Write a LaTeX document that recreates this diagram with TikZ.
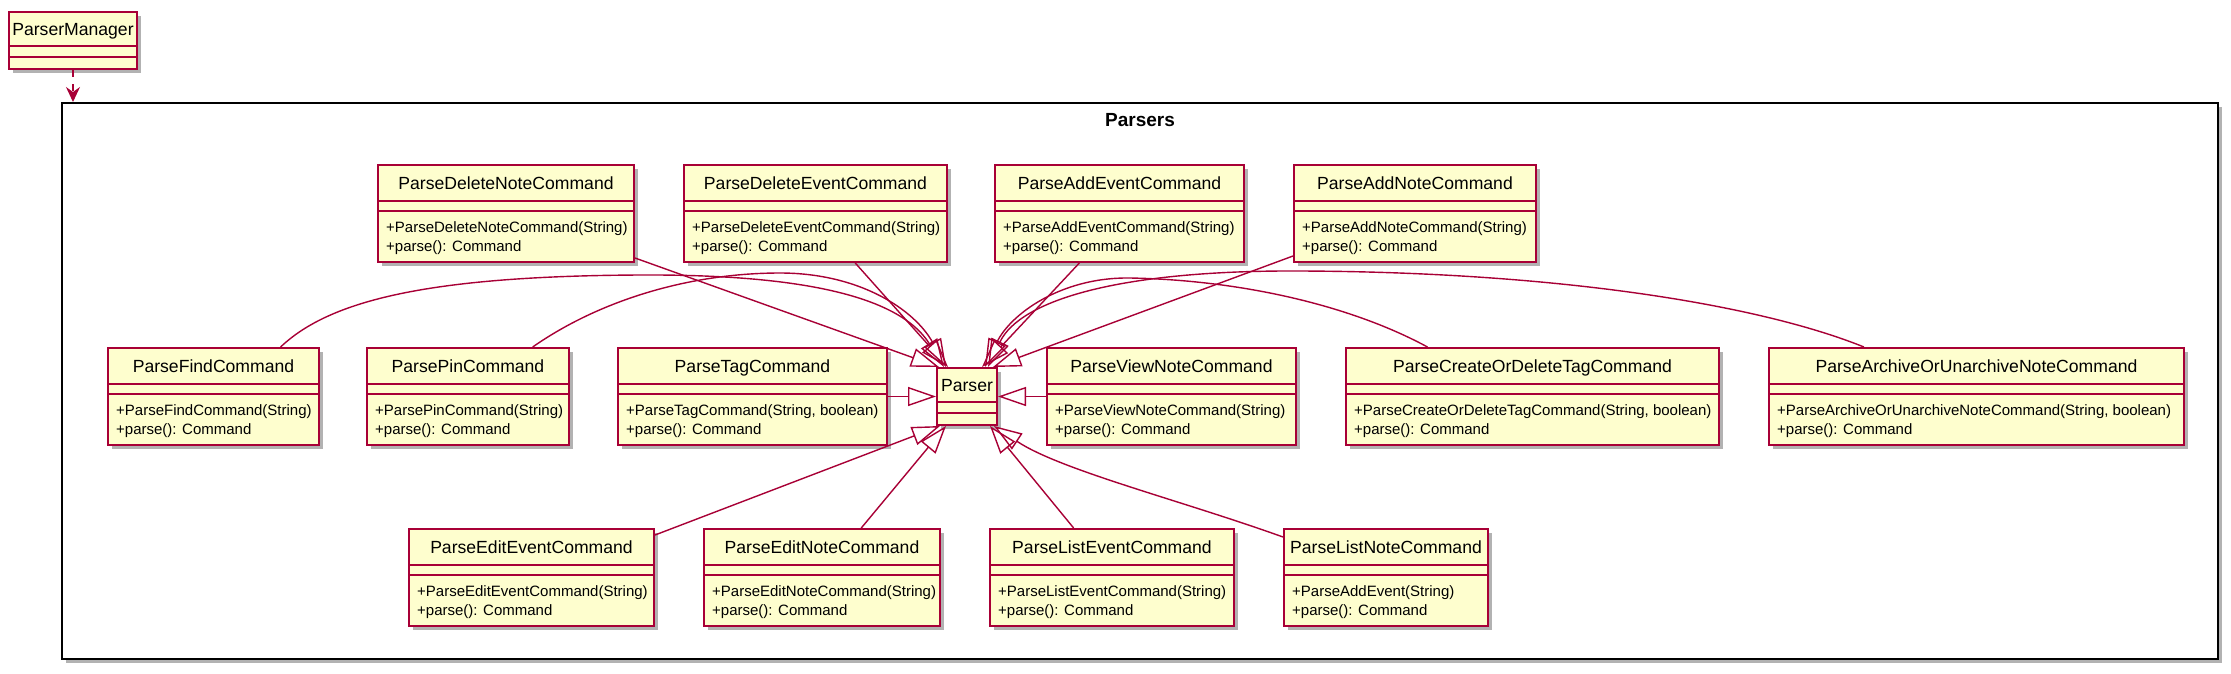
\documentclass[tikz,border=0pt]{standalone}
\usepackage{fontspec}
\setmainfont{Liberation Sans}
\usepackage{tikz}
\usetikzlibrary{positioning}
\usetikzlibrary{calc,shadows}
\usetikzlibrary{arrows.meta}
\definecolor{umlred}{HTML}{A80036}
\definecolor{umlfill}{HTML}{FEFECE}
\newcommand{\classfont}{\fontsize{17.6}{21}\selectfont}
\newcommand{\memberfont}{\fontsize{15}{19}\selectfont}
\tikzstyle{umlbox}=[draw=umlred, fill=umlfill, line width=2pt, inner sep=0pt, anchor=north west,
  drop shadow={shadow xshift=4pt, shadow yshift=-4pt, opacity=0.3, fill=black}]
\tikzstyle{umlline}=[umlred, line width=2pt]
\tikzstyle{member}=[anchor=base west, font=\memberfont, inner sep=0pt]
\tikzstyle{extends}=[umlred, line width=1.4pt, -{Triangle[open, length=28pt, width=19pt]}]
\tikzstyle{depends}=[umlred, line width=1.4pt, dash pattern=on 7pt off 7pt, -{Stealth[length=15pt, width=14pt, inset=5pt]}]

% class box: name, left, top, width, title, constructor
\newcommand{\umlclass}[6]{%
  \node[umlbox, minimum width=#4pt, minimum height=97pt] (#1) at (#2,#3) {};
  \draw[umlline] ($(#1.north west)+(0,37)$) -- ($(#1.north east)+(0,37)$);
  \draw[umlline] ($(#1.north west)+(0,47)$) -- ($(#1.north east)+(0,47)$);
  \node[anchor=base, font=\classfont] (#1-name) at ($(#1.north)+(0,25.5)$) {#5};
  \node[member] (#1-new) at ($(#1.north west)+(9,68)$) {#6};
  \node[member] (#1-parse) at ($(#1.north west)+(9,87.5)$) {+parse(): Command};
}
% class box without members: name, left, top, width, title
\newcommand{\emptyclass}[5]{%
  \node[umlbox, minimum width=#4pt, minimum height=57pt] (#1) at (#2,#3) {};
  \draw[umlline] ($(#1.north west)+(0,35)$) -- ($(#1.north east)+(0,35)$);
  \draw[umlline] ($(#1.north west)+(0,46)$) -- ($(#1.north east)+(0,46)$);
  \node[anchor=base, font=\classfont] (#1-name) at ($(#1.north)+(0,24.5)$) {#5};
}

\begin{document}
\begin{tikzpicture}[x=1pt, y=-1pt]
    \useasboundingbox (0,0) rectangle (2231,673);

    % the package frame
    \node[draw=black, fill=white, line width=2pt, inner sep=0pt, anchor=north west,
      minimum width=2156pt, minimum height=556pt,
      drop shadow={shadow xshift=4pt, shadow yshift=-4pt, opacity=0.3, fill=black}] (parsers) at (61,102) {};
    \node[anchor=base, font=\bfseries\fontsize{19}{22}\selectfont] (parsers-name) at ($(parsers.north)+(0,24.5)$) {Parsers};

    % manager outside the package
    \emptyclass{manager}{8}{11}{128}{ParserManager}
    \draw[depends] (manager.south) -- (manager.south |- parsers.north);

    % top row
    \umlclass{deletenote}{377}{164}{256}{ParseDeleteNoteCommand}{+ParseDeleteNoteCommand(String)}
    \umlclass{deleteevent}{683}{164}{263}{ParseDeleteEventCommand}{+ParseDeleteEventCommand(String)}
    \umlclass{addevent}{994}{164}{249}{ParseAddEventCommand}{+ParseAddEventCommand(String)}
    \umlclass{addnote}{1293}{164}{242}{ParseAddNoteCommand}{+ParseAddNoteCommand(String)}

    % middle row
    \umlclass{find}{107}{347}{211}{ParseFindCommand}{+ParseFindCommand(String)}
    \umlclass{pin}{366}{347}{202}{ParsePinCommand}{+ParsePinCommand(String)}
    \umlclass{tag}{617}{347}{269}{ParseTagCommand}{+ParseTagCommand(String, boolean)}
    \emptyclass{parser}{936}{367}{60}{Parser}
    \umlclass{viewnote}{1046}{347}{249}{ParseViewNoteCommand}{+ParseViewNoteCommand(String)}
    \umlclass{createtag}{1345}{347}{373}{ParseCreateOrDeleteTagCommand}{+ParseCreateOrDeleteTagCommand(String, boolean)}
    \umlclass{archive}{1768}{347}{415}{ParseArchiveOrUnarchiveNoteCommand}{+ParseArchiveOrUnarchiveNoteCommand(String, boolean)}

    % bottom row
    \umlclass{editevent}{408}{528}{245}{ParseEditEventCommand}{+ParseEditEventCommand(String)}
    \umlclass{editnote}{703}{528}{236}{ParseEditNoteCommand}{+ParseEditNoteCommand(String)}
    \umlclass{listevent}{989}{528}{244}{ParseListEventCommand}{+ParseListEventCommand(String)}
    \umlclass{listnote}{1283}{528}{204}{ParseListNoteCommand}{+ParseAddEvent(String)}

    % 1. from the top row into the top of Parser
    \draw[extends] ($(deletenote.south east)+(0,-5)$) -- ($(parser.north west)+(3,0)$);
    \draw[extends] ($(deleteevent.south west)!0.65!(deleteevent.south east)$) -- ($(parser.north west)+(12,0)$);
    \draw[extends] ($(addevent.south west)!0.34!(addevent.south east)$) -- ($(parser.north west)+(46,0)$);
    \draw[extends] ($(addnote.south west)+(0,-7)$) -- ($(parser.north west)+(57,0)$);

    % 2. neighbours on the same row
    \draw[extends] (tag.east) -- (parser.west);
    \draw[extends] (viewnote.west) -- (parser.east);

    % 3. far ones on the same row, curving over the top
    \draw[extends] ($(find.north west)!0.815!(find.north east)$)
      .. controls (330,300) and (430,276) .. (640,275)
      .. controls (830,274) and (905,305) .. ($(parser.north west)+(8,0)$);
    \draw[extends] ($(pin.north west)!0.817!(pin.north east)$)
      .. controls (600,300) and (690,273) .. (780,273)
      .. controls (860,273) and (915,310) .. ($(parser.north west)+(10,0)$);
    \draw[extends] ($(createtag.north west)!0.22!(createtag.north east)$)
      .. controls (1350,305) and (1240,280) .. (1130,278)
      .. controls (1060,277) and (1010,315) .. ($(parser.north west)+(49,0)$);
    \draw[extends] ($(archive.north west)!0.23!(archive.north east)$)
      .. controls (1760,305) and (1560,272) .. (1300,271)
      .. controls (1120,270) and (1020,300) .. ($(parser.north west)+(52,0)$);

    % 4. from the bottom row into the bottom of Parser
    \draw[extends] ($(editevent.north east)+(0,7)$) -- ($(parser.south west)+(4,0)$);
    \draw[extends] ($(editnote.north west)!0.665!(editnote.north east)$) -- ($(parser.south west)+(10,0)$);
    \draw[extends] ($(listevent.north west)!0.344!(listevent.north east)$) -- ($(parser.south west)+(54,0)$);
    \draw[extends] ($(listnote.north west)+(0,9)$)
      .. controls (1180,500) and (1060,470) .. ($(parser.south west)+(58,0)$);
\end{tikzpicture}
\end{document}
